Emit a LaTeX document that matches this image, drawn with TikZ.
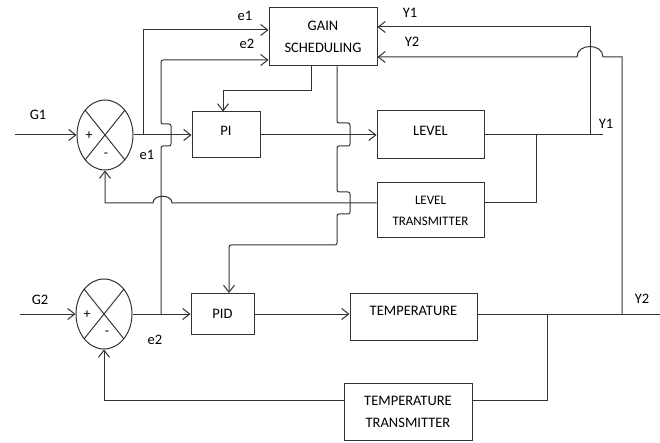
\documentclass[tikz,border=0pt]{standalone}
\usepackage{fontspec}
\setmainfont{Carlito}
\usetikzlibrary{arrows.meta,shapes.geometric}
\begin{document}
\begin{tikzpicture}[x=1pt,y=-1pt,
  ln/.style={draw=black!80,line width=1pt},
  arr/.style={ln,-{Straight Barb[length=7pt,width=11pt]}},
  blk/.style={draw=black!80,line width=1pt,rectangle,inner sep=0pt,align=center,text=black},
  sum/.style={draw=black!80,line width=1pt,ellipse,minimum width=56pt,minimum height=70pt,inner sep=0pt},
  lbl/.style={text=black,inner sep=0pt},
  sgn/.style={text=black,inner sep=0pt,font=\fontsize{14}{14}\selectfont},
  font=\fontsize{14.5}{22}\selectfont]
\fill[white] (0,0) rectangle (660,443);
\useasboundingbox (0,0) rectangle (660,443);

% summing junctions
\node[sum] (s1) at (105,135) {};
\node[sum] (s2) at (104,314) {};
\draw[ln] ([shift={(-20,-25)}]s1.center) -- ([shift={(20,25)}]s1.center)
          ([shift={(20,-25)}]s1.center) -- ([shift={(-20,25)}]s1.center);
\draw[ln] ([shift={(-20,-25)}]s2.center) -- ([shift={(20,25)}]s2.center)
          ([shift={(20,-25)}]s2.center) -- ([shift={(-20,25)}]s2.center);
\node[sgn] (p1) at ([shift={(-16,1)}]s1.center) {+};
\node[sgn] (m1) at ([shift={(1,20)}]s1.center) {-};
\node[sgn] (p2) at ([shift={(-17,1)}]s2.center) {+};
\node[sgn] (m2) at ([shift={(3,19)}]s2.center) {-};

% blocks
\node[blk,minimum width=108pt,minimum height=58pt] (gain) at (323,37) {GAIN\\SCHEDULING};
\node[blk,minimum width=68pt,minimum height=46pt,text depth=8pt] (pi) at (226,135) {PI};
\node[blk,minimum width=107pt,minimum height=48pt,text depth=8pt] (level) at (430.5,135) {LEVEL};
\node[blk,minimum width=107pt,minimum height=55pt,font=\fontsize{13}{21}\selectfont] (lt) at (430.5,210.5) {LEVEL\\TRANSMITTER};
\node[blk,minimum width=63pt,minimum height=41pt] (pid) at (222.5,314) {PID};
\node[blk,minimum width=127pt,minimum height=47pt,text depth=12pt] (temp) at (413.5,317) {TEMPERATURE};
\node[blk,minimum width=128pt,minimum height=57pt] (tt) at (408,411.5) {TEMPERATURE\\TRANSMITTER};

% coordinates
\coordinate (g1) at (15,135);
\coordinate (g2) at (20,314);
\coordinate (je1) at (143,135);
\coordinate (je2) at (161,314);
\coordinate (e1c) at (143,30);
\coordinate (e2c) at (161,60);
\coordinate (y1j) at (590,135);
\coordinate (y1c) at (590,27);
\coordinate (y1end) at (603,135);
\coordinate (lvj) at (536,135);
\coordinate (lfb) at (536,203);
\coordinate (y2j) at (622,314);
\coordinate (y2c) at (577,57);
\coordinate (y2end) at (660,314);
\coordinate (tpj) at (547,314);
\coordinate (tfb) at (547,400);

% first loop
\draw[arr] (g1) -- (s1.west);
\draw[arr] (s1.east) -- (pi.west);
\draw[arr] (je1) -- (e1c) -- (e1c -| gain.west);
\draw[arr,rounded corners=2pt] (je2) -- (161,146) -- (171,146) -- (171,124) -- (161,124) -- (e2c) -- (e2c -| gain.west);
\draw[arr] ([xshift=-12pt]gain.south) -- ++(0,24) -| ([xshift=-3pt]pi.north);
\draw[arr,rounded corners=2pt] ([xshift=14pt]gain.south) -- (337,123) -- (350,123) -- (350,146) -- (337,146)
   -- (337,192) -- (350,192) -- (350,214) -- (337,214) -- (337,245) -| ([xshift=6.5pt]pid.north);
\draw[arr] (pi.east) -- (level.west);
\draw[ln] (level.east) -- (y1end);
\draw[ln] (lvj) -- (lfb) -- (lfb -| lt.east);
\draw[arr] (lfb -| lt.west) -- (172,203) .. controls (172,194) and (153,194) .. (153,203) -| (s1.south);
\draw[arr] (y1j) -- (y1c) -- (y1c -| gain.east);
\draw[arr] (y2j) -- (622,57) -- (603,57) .. controls (603,43) and (577,43) .. (y2c) -- (y2c -| gain.east);

% second loop
\draw[arr] (g2) -- (s2.west);
\draw[arr] (s2.east) -- (pid.west);
\draw[arr] (pid.east) -- (pid.east -| temp.west);
\draw[ln] (tpj -| temp.east) -- (y2end);
\draw[ln] (tpj) -- (tfb) -- (tfb -| tt.east);
\draw[arr] (tfb -| tt.west) -| (s2.south);

% labels
\node[lbl] (lg1) at (38,115) {G1};
\node[lbl] (lg2) at (40,300) {G2};
\node[lbl] (le1a) at (147,155) {e1};
\node[lbl] (le2a) at (155,340) {e2};
\node[lbl] (le1b) at (245,16) {e1};
\node[lbl] (le2b) at (247,44) {e2};
\node[lbl] (ly1a) at (410,13) {Y1};
\node[lbl] (ly2a) at (412,42) {Y2};
\node[lbl] (ly1b) at (606,124) {Y1};
\node[lbl] (ly2b) at (642,299) {Y2};
\end{tikzpicture}
\end{document}
